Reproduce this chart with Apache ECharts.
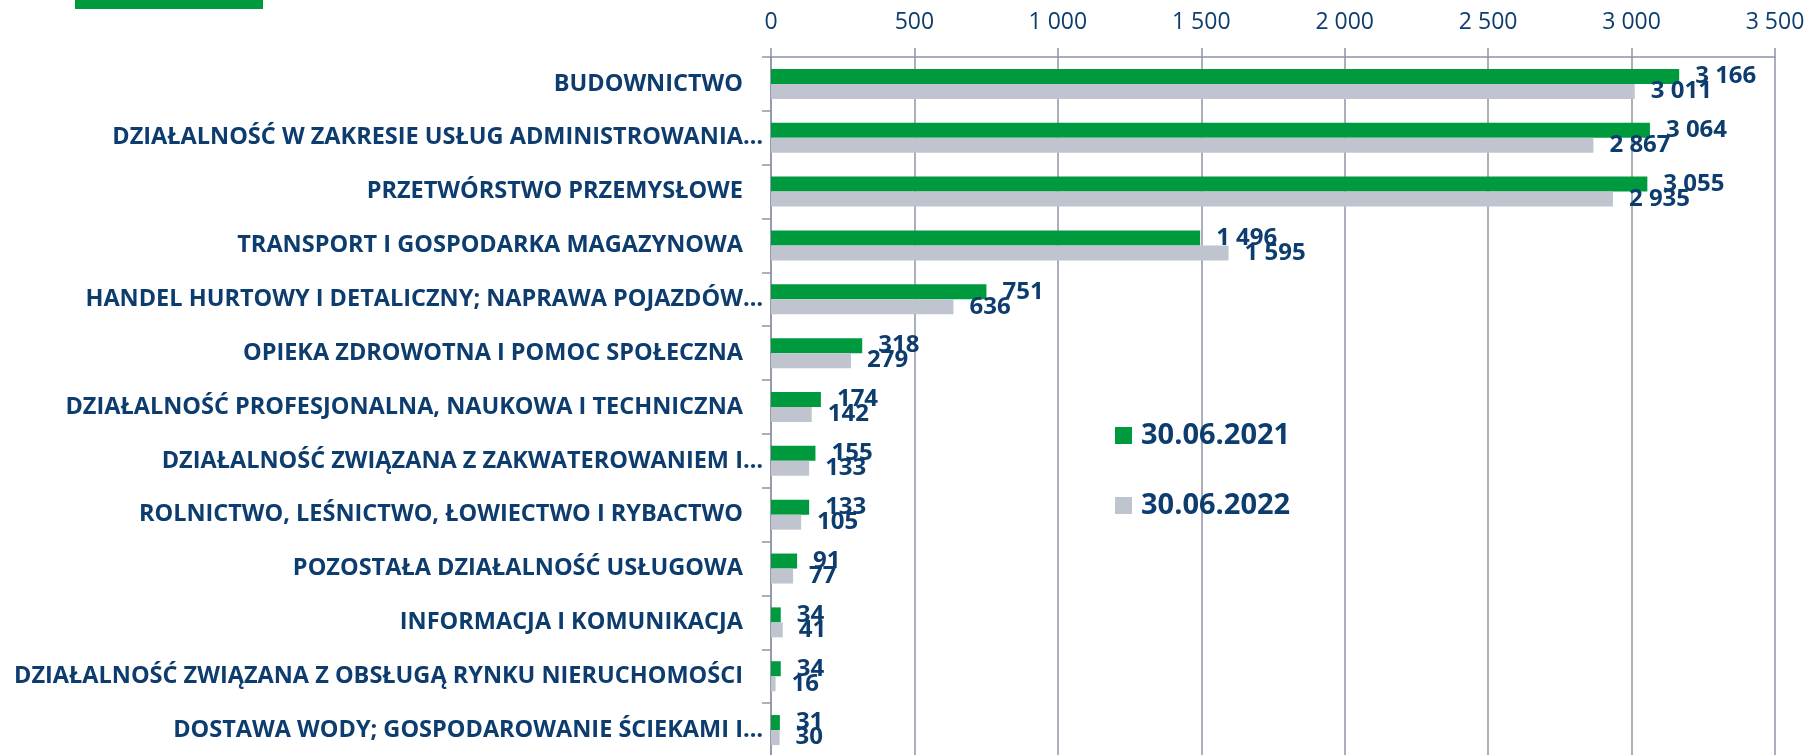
<!DOCTYPE html>
<html>
<head>
<meta charset="utf-8">
<script src="https://cdn.jsdelivr.net/npm/echarts@6/dist/echarts.min.js"></script>
<style>
  html, body { margin: 0; padding: 0; background: #fff; }
  #chart { width: 1810px; height: 755px; }
</style>
</head>
<body>
<div id="chart"></div>
<script>
// sekcje PKD, od góry do dołu
const categories = [
  'BUDOWNICTWO',
  'DZIAŁALNOŚĆ W ZAKRESIE USŁUG ADMINISTROWANIA…',
  'PRZETWÓRSTWO PRZEMYSŁOWE',
  'TRANSPORT I GOSPODARKA MAGAZYNOWA',
  'HANDEL HURTOWY I DETALICZNY; NAPRAWA POJAZDÓW…',
  'OPIEKA ZDROWOTNA I POMOC SPOŁECZNA',
  'DZIAŁALNOŚĆ PROFESJONALNA, NAUKOWA I TECHNICZNA',
  'DZIAŁALNOŚĆ ZWIĄZANA Z ZAKWATEROWANIEM I…',
  'ROLNICTWO, LEŚNICTWO, ŁOWIECTWO I RYBACTWO',
  'POZOSTAŁA DZIAŁALNOŚĆ USŁUGOWA',
  'INFORMACJA I KOMUNIKACJA',
  'DZIAŁALNOŚĆ ZWIĄZANA Z OBSŁUGĄ RYNKU NIERUCHOMOŚCI',
  'DOSTAWA WODY; GOSPODAROWANIE ŚCIEKAMI I…'
];
const values2021 = [3166, 3064, 3055, 1496, 751, 318, 174, 155, 133, 91, 34, 34, 31];
const values2022 = [3011, 2867, 2935, 1595, 636, 279, 142, 133, 105, 77, 41, 16, 30];
const seriesNames = ['30.06.2021', '30.06.2022'];

const navy = '#0d3c6e';
const lineColor = '#8f94a6';
const font = 'Open Sans';

function fmt(v) {
  return String(v).replace(/\B(?=(\d{3})+(?!\d))/g, ' ');
}

let chart = echarts.init(document.getElementById('chart'));

function barSeries(name, data, color) {
  return {
    name: name,
    type: 'bar',
    data: data,
    barWidth: 15,
    barGap: '0%',
    itemStyle: { color: color },
    label: {
      show: true,
      position: 'right',
      distance: 16,
      formatter: p => fmt(p.value),
      color: navy,
      fontFamily: font,
      fontWeight: 'bold',
      fontSize: 24
    }
  };
}

let option = {
  backgroundColor: '#fff',
  animation: false,
  graphic: [{
    type: 'rect',
    shape: { x: 75, y: 0, width: 188, height: 9 },
    style: { fill: '#009a3e' }
  }],
  legend: {
    data: seriesNames,
    orient: 'vertical',
    left: 1115,
    top: 421,
    padding: 0,
    // kwadrat 17px, z odstępem przed tekstem
    icon: 'path://M0 0H17V17H0Z M21 17L21.01 17L21.01 17.01Z',
    itemWidth: 21,
    itemHeight: 17,
    itemGap: 41,
    textStyle: { color: navy, fontFamily: font, fontWeight: 'bold', fontSize: 29 }
  },
  grid: { left: 771, right: 35, top: 57, bottom: -2, outerBoundsMode: 'none' },
  xAxis: {
    type: 'value',
    position: 'top',
    min: 0,
    max: 3500,
    interval: 500,
    axisLine: { show: true, lineStyle: { color: lineColor, width: 1.5 } },
    axisTick: { show: true, length: 9, lineStyle: { color: lineColor, width: 1.5 } },
    splitLine: { show: true, lineStyle: { color: lineColor, width: 1.5 } },
    axisLabel: {
      formatter: v => fmt(v),
      color: navy,
      fontFamily: font,
      fontSize: 23,
      margin: 23
    }
  },
  yAxis: {
    type: 'category',
    inverse: true,
    data: categories,
    axisLine: { show: true, lineStyle: { color: lineColor, width: 1.5 } },
    axisTick: { show: true, length: 9, lineStyle: { color: lineColor, width: 1.5 } },
    axisLabel: {
      margin: 8,
      color: navy,
      fontFamily: font,
      fontWeight: 'bold',
      fontSize: 23.5,
      // etykiety bez wielokropka kończą się nieco dalej od osi
      formatter: v => v.endsWith('…') ? v : '{p|' + v + '}',
      rich: {
        p: { padding: [0, 20, 0, 0], color: navy, fontFamily: font, fontWeight: 'bold', fontSize: 23.5 }
      }
    }
  },
  series: [
    barSeries(seriesNames[0], values2021, '#009a3e'),
    barSeries(seriesNames[1], values2022, '#c0c4ce')
  ]
};
chart.setOption(option);
</script>
</body>
</html>
